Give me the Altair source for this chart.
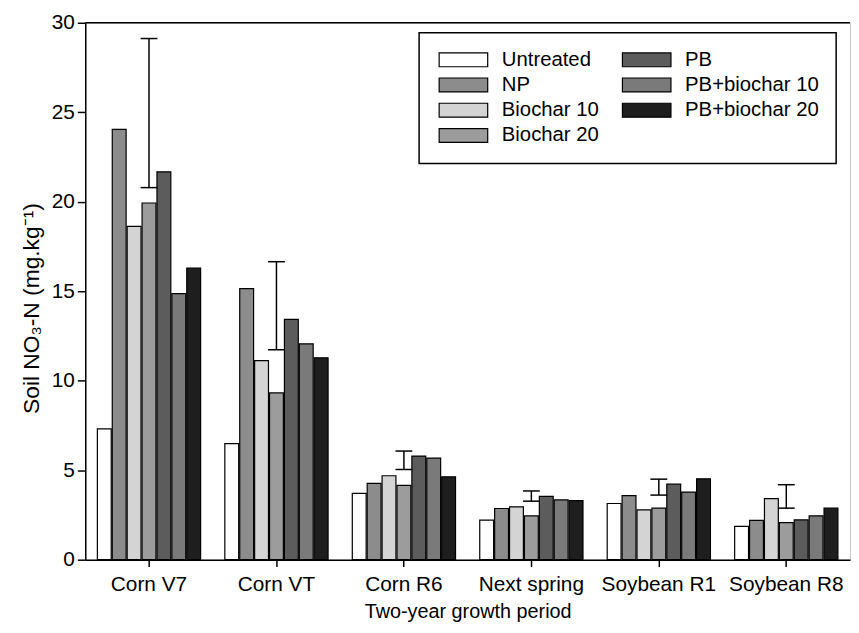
import altair as alt
import pandas as pd

periods = ["Corn V7", "Corn VT", "Corn R6", "Next spring", "Soybean R1", "Soybean R8"]
treatments = ["Untreated", "NP", "Biochar 10", "Biochar 20", "PB", "PB+biochar 10", "PB+biochar 20"]

untreated = [7.31, 6.49, 3.71, 2.21, 3.14, 1.86]
np_vals = [24.04, 15.15, 4.26, 2.86, 3.58, 2.20]
biochar10 = [18.62, 11.12, 4.69, 2.95, 2.78, 3.41]
biochar20 = [19.93, 9.32, 4.15, 2.45, 2.88, 2.07]
pb = [21.67, 13.43, 5.79, 3.54, 4.22, 2.23]
pb_biochar10 = [14.87, 12.06, 5.68, 3.34, 3.78, 2.45]
pb_biochar20 = [16.30, 11.28, 4.63, 3.30, 4.52, 2.88]

err_low = [20.79, 11.73, 5.04, 3.27, 3.61, 2.88]
err_high = [29.12, 16.65, 6.07, 3.84, 4.50, 4.19]

y_ticks = [0, 5, 10, 15, 20, 25, 30]

series = {
    "Untreated": untreated,
    "NP": np_vals,
    "Biochar 10": biochar10,
    "Biochar 20": biochar20,
    "PB": pb,
    "PB+biochar 10": pb_biochar10,
    "PB+biochar 20": pb_biochar20,
}
fills = {
    "Untreated": "#ffffff",
    "NP": "#8c8c8c",
    "Biochar 10": "#d4d4d4",
    "Biochar 20": "#9c9c9c",
    "PB": "#5c5c5c",
    "PB+biochar 10": "#7a7a7a",
    "PB+biochar 20": "#1e1e1e",
}

rows = []
for t in treatments:
    for p, v in zip(periods, series[t]):
        rows.append({"period": p, "treatment": t, "value": v})
bars_df = pd.DataFrame(rows)
err_df = pd.DataFrame({"period": periods, "low": err_low, "high": err_high})
frame_df = pd.DataFrame({"top": [y_ticks[-1]]})

FONT = "Liberation Sans"

x_scale = alt.Scale(domain=periods, paddingInner=0.19, paddingOuter=0.095)
y_scale = alt.Scale(domain=[0, 30], nice=False)

x_enc = alt.X(
    "period:N",
    sort=periods,
    scale=x_scale,
    title="Two-year growth period",
    axis=alt.Axis(
        labelAngle=0,
        labelFontSize=21,
        labelFont=FONT,
        labelColor="black",
        labelPadding=7,
        tickSize=7,
        tickWidth=1.5,
        tickColor="black",
        domainColor="black",
        domainWidth=1.5,
        titleFontSize=20,
        titleFont=FONT,
        titleFontWeight="normal",
        titleColor="black",
        titlePadding=7,
        grid=False,
    ),
)

y_axis = alt.Axis(
    values=y_ticks,
    labelFontSize=21,
    labelFont=FONT,
    labelColor="black",
    labelPadding=3,
    tickSize=8,
    tickWidth=1.5,
    tickColor="black",
    domainColor="black",
    domainWidth=1.5,
    titleFontSize=23,
    titleFont=FONT,
    titleFontWeight="normal",
    titleColor="black",
    titlePadding=8,
    titleY=288,
    grid=False,
)

bars = alt.Chart(bars_df).mark_bar(stroke="black", strokeWidth=1.2, opacity=1).encode(
    x=x_enc,
    xOffset=alt.XOffset(
        "treatment:N", sort=treatments, scale=alt.Scale(domain=treatments, paddingInner=0.07)
    ),
    y=alt.Y("value:Q", scale=y_scale, axis=y_axis, title="Soil NO₃-N (mg.kg⁻¹)"),
    color=alt.Color(
        "treatment:N",
        scale=alt.Scale(domain=treatments, range=[fills[t] for t in treatments]),
        legend=alt.Legend(
            title=None,
            orient="none",
            legendX=337,
            legendY=10,
            columns=2,
            columnPadding=20,
            rowPadding=4.5,
            padding=17,
            strokeColor="black",
            fillColor="white",
            labelFont=FONT,
            labelFontSize=20.5,
            labelColor="black",
            labelOffset=46,
            symbolType="M-1,-1L6,-1L6,1L-1,1Z",
            symbolSize=196,
            symbolStrokeColor="black",
            symbolStrokeWidth=1.2,
            symbolOpacity=1,
        ),
    ),
)

err_x = alt.X("period:N", sort=periods)
err_rule = alt.Chart(err_df).mark_rule(color="black", strokeWidth=1.5).encode(
    x=err_x, y="low:Q", y2="high:Q"
)
err_lo = alt.Chart(err_df).mark_tick(color="black", thickness=1.5, size=17, opacity=1).encode(
    x=err_x, y="low:Q"
)
err_hi = alt.Chart(err_df).mark_tick(color="black", thickness=1.5, size=17, opacity=1).encode(
    x=err_x, y="high:Q"
)
top_line = alt.Chart(frame_df).mark_rule(color="black", strokeWidth=1.5).encode(
    y=alt.Y("top:Q")
)

chart = (
    alt.layer(bars, err_rule, err_lo, err_hi, top_line)
    .properties(
        width=772,
        height=542,
        autosize=alt.AutoSizeParams(type="none"),
        padding={"left": 78, "top": 12, "right": 1, "bottom": 63},
    )
    .configure_view(stroke="#c8c8c8", strokeWidth=1)
    .configure_legend(strokeWidth=1.5)
)

chart.save("out.html", embed_options={"renderer": "svg", "actions": False})
